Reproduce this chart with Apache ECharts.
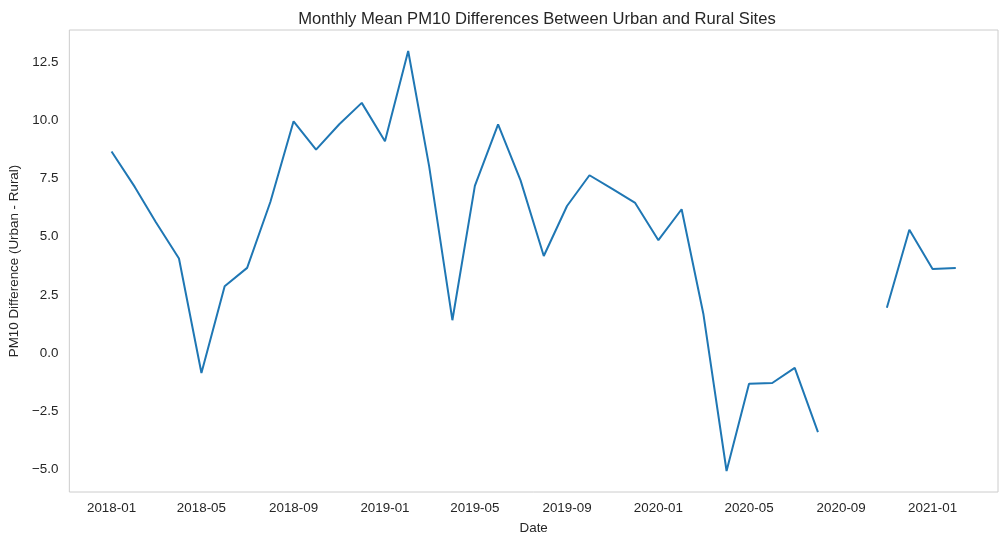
<!DOCTYPE html>
<html>
<head>
<meta charset="utf-8">
<script src="https://cdn.jsdelivr.net/npm/echarts@6/dist/echarts.min.js"></script>
<style>
  html, body { margin: 0; padding: 0; background: #fff; }
  #chart { width: 1006px; height: 545px; }
</style>
</head>
<body>
<div id="chart"></div>
<script>
// monthly dates (first of month) and urban - rural PM10 difference, null = no data
const months = [
  '2018-01', '2018-02', '2018-03', '2018-04', '2018-05', '2018-06',
  '2018-07', '2018-08', '2018-09', '2018-10', '2018-11', '2018-12',
  '2019-01', '2019-02', '2019-03', '2019-04', '2019-05', '2019-06',
  '2019-07', '2019-08', '2019-09', '2019-10', '2019-11', '2019-12',
  '2020-01', '2020-02', '2020-03', '2020-04', '2020-05', '2020-06',
  '2020-07', '2020-08', '2020-09', '2020-10', '2020-11', '2020-12',
  '2021-01', '2021-02'
];
const pm10Diff = [
  8.66, 7.14, 5.63, 4.06, -0.86, 2.87,
  3.66, 6.49, 9.96, 8.74, 9.83, 10.75,
  9.10, 12.98, 8.02, 1.41, 7.18, 9.83,
  7.42, 4.17, 6.32, 7.64, 7.04, 6.45,
  4.85, 6.18, 1.69, -5.07, -1.32, -1.29,
  -0.64, -3.40, null, null, 1.95, 5.30,
  3.61, 3.65
];
const xTickLabels = ['2018-01', '2018-05', '2018-09', '2019-01', '2019-05', '2019-09', '2020-01', '2020-05', '2020-09', '2021-01'];
const yTicks = [-5.0, -2.5, 0.0, 2.5, 5.0, 7.5, 10.0, 12.5];

const toTime = s => {
  const p = s.split('-');
  return Date.UTC(+p[0], +p[1] - 1, 1);
};
const pad = n => (n < 10 ? '0' + n : '' + n);
const fmtMonth = t => {
  const d = new Date(t);
  return d.getUTCFullYear() + '-' + pad(d.getUTCMonth() + 1);
};

const seriesData = months.map((m, i) => [toTime(m), pm10Diff[i] === null ? '-' : pm10Diff[i]]);

// matplotlib style 5% margins
const t0 = toTime(months[0]);
const t1 = toTime(months[months.length - 1]);
const xPad = (t1 - t0) * 0.05;
const vals = pm10Diff.filter(v => v !== null);
const vMin = Math.min(...vals);
const vMax = Math.max(...vals);
const yPad = (vMax - vMin) * 0.05;

const textColor = '#262626';
const font = 'Liberation Sans, Arial, sans-serif';

const option = {
  animation: false,
  textStyle: { fontFamily: font, color: textColor },
  title: {
    text: 'Monthly Mean PM10 Differences Between Urban and Rural Sites',
    left: 532,
    textAlign: 'center',
    top: 6,
    textStyle: { fontFamily: font, fontSize: 16.6, fontWeight: 'normal', color: textColor }
  },
  grid: {
    left: 67,
    right: 8,
    top: 30,
    bottom: 53,
    show: true,
    borderColor: '#cccccc',
    borderWidth: 1,
    containLabel: false
  },
  xAxis: {
    type: 'value',
    min: t0 - xPad,
    max: t1 + xPad,
    name: 'Date',
    nameLocation: 'middle',
    nameGap: 30,
    nameTextStyle: { fontFamily: font, fontSize: 13.4, color: textColor },
    axisLine: { show: false },
    axisTick: { show: false },
    splitLine: { show: false },
    axisLabel: {
      customValues: xTickLabels.map(toTime),
      formatter: v => fmtMonth(v),
      fontFamily: font,
      fontSize: 13.4,
      color: textColor,
      margin: 10,
      hideOverlap: false
    }
  },
  yAxis: {
    type: 'value',
    min: vMin - yPad,
    max: vMax + yPad,
    name: 'PM10 Difference (Urban - Rural)',
    nameLocation: 'middle',
    nameGap: 43,
    nameTextStyle: { fontFamily: font, fontSize: 13.4, color: textColor },
    axisLine: { show: false },
    axisTick: { show: false },
    splitLine: { show: false },
    axisLabel: {
      customValues: yTicks,
      formatter: v => v.toFixed(1).replace('-', '\u2212'),
      fontFamily: font,
      fontSize: 13.4,
      color: textColor,
      margin: 11
    }
  },
  series: [
    {
      type: 'line',
      data: seriesData,
      showSymbol: false,
      connectNulls: false,
      lineStyle: { color: '#1f77b4', width: 2 },
      itemStyle: { color: '#1f77b4' }
    }
  ]
};

const chart = echarts.init(document.getElementById('chart'));
chart.setOption(option);
</script>
</body>
</html>
